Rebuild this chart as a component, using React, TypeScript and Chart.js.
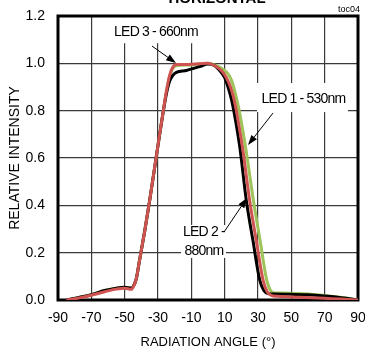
import React, { useEffect, useRef } from "react";
import { Chart, registerables } from "chart.js";

Chart.register(...registerables);

// ---- Data ----
const xTickValues = [-90, -70, -50, -30, -10, 10, 30, 50, 70, 90];
const yTickValues = [0, 0.2, 0.4, 0.6, 0.8, 1.0, 1.2];

// LED 1 - 530nm (green)
const led1Angles = [-85, -78, -70, -62, -55, -50, -46, -44.5, -43, -41.5, -40, -38, -35, -32, -29, -27, -25, -23, -21, -19, -12, -5, 0, 5, 9, 12, 14, 16.5, 19, 22.8, 27.2, 31.2, 35.2, 37.5, 40, 45, 55, 65, 75, 85, 90];
const led1Values = [0, 0.01, 0.022, 0.04, 0.05, 0.053, 0.05, 0.062, 0.09, 0.15, 0.21, 0.29, 0.42, 0.56, 0.7, 0.79, 0.88, 0.945, 0.98, 0.99, 0.993, 0.997, 1.0, 0.99, 0.975, 0.955, 0.93, 0.87, 0.79, 0.634, 0.4225, 0.2535, 0.085, 0.04, 0.03, 0.03, 0.027, 0.022, 0.015, 0.006, 0];

// LED 2 - 880nm (black)
const led2Angles = [-85, -78, -70, -62, -55, -50, -46, -44.5, -43, -41.5, -40, -38, -35, -32, -29, -27, -25, -23, -21, -19, -13, -5, 0, 4, 7, 10, 12, 14, 16, 19, 23, 27, 31, 33.5, 36, 40, 50, 60, 70, 80, 90];
const led2Values = [0, 0.01, 0.022, 0.04, 0.05, 0.054, 0.05, 0.062, 0.09, 0.15, 0.21, 0.29, 0.42, 0.56, 0.7, 0.79, 0.87, 0.925, 0.95, 0.962, 0.97, 0.986, 0.997, 0.99, 0.97, 0.94, 0.9, 0.85, 0.78, 0.65, 0.42, 0.25, 0.085, 0.04, 0.027, 0.025, 0.024, 0.022, 0.017, 0.01, 0];

// LED 3 - 660nm (red)
const led3Angles = [-85, -78, -70, -62, -55, -50, -46, -44.5, -43, -41.5, -40, -38, -35, -32, -29, -27, -25, -23, -21, -19, -12, -5, 0, 4, 8, 11, 14, 16.5, 18.5, 21, 25, 29, 33, 35.5, 38, 42, 55, 70, 80, 90];
const led3Values = [0, 0.008, 0.02, 0.035, 0.046, 0.05, 0.045, 0.06, 0.09, 0.15, 0.21, 0.29, 0.42, 0.56, 0.7, 0.79, 0.88, 0.95, 0.985, 0.995, 0.995, 0.998, 1.0, 0.99, 0.97, 0.94, 0.89, 0.82, 0.74, 0.63, 0.42, 0.25, 0.085, 0.035, 0.02, 0.016, 0.012, 0.007, 0.004, 0];

const seriesNames = ["LED 1 - 530nm", "LED 2 - 880nm", "LED 3 - 660nm"];

const FONT = "'Liberation Sans', Arial, Helvetica, sans-serif";

function toPoints(xs: number[], ys: number[]) {
  return xs.map((x, i) => ({ x, y: ys[i] }));
}

export default function App() {
  const ref = useRef<HTMLCanvasElement>(null);

  useEffect(() => {
    const canvas = ref.current!;

    const drawArrow = (ctx: CanvasRenderingContext2D, x1: number, y1: number, x2: number, y2: number) => {
      const ang = Math.atan2(y2 - y1, x2 - x1);
      const hl = 10, hw = 3.5;
      const bx = x2 - hl * Math.cos(ang), by = y2 - hl * Math.sin(ang);
      ctx.save();
      ctx.strokeStyle = "#000";
      ctx.fillStyle = "#000";
      ctx.lineWidth = 1;
      ctx.beginPath();
      ctx.moveTo(x1, y1);
      ctx.lineTo(bx, by);
      ctx.stroke();
      ctx.beginPath();
      ctx.moveTo(x2, y2);
      ctx.lineTo(bx + hw * Math.sin(ang), by - hw * Math.cos(ang));
      ctx.lineTo(bx - hw * Math.sin(ang), by + hw * Math.cos(ang));
      ctx.closePath();
      ctx.fill();
      ctx.restore();
    };

    const overlay = {
      id: "overlay",
      beforeDatasetsDraw(chart: any) {
        const { ctx, scales } = chart;
        const sx = scales.x, sy = scales.y;
        // white label boxes (covering grid)
        ctx.save();
        ctx.fillStyle = "#fff";
        const box = (x0: number, y0: number, x1: number, y1: number) => {
          const a = sx.getPixelForValue(x0), b = sx.getPixelForValue(x1);
          const c = sy.getPixelForValue(y0), d = sy.getPixelForValue(y1);
          ctx.fillRect(Math.min(a, b), Math.min(c, d), Math.abs(b - a), Math.abs(d - c));
        };
        box(-64.8, 1.195, -4.2, 1.085);   // LED 3 box
        box(29.4, 0.917, 84, 0.794);      // LED 1 box
        box(-16.2, 0.317, 10.8, 0.178);   // LED 2 box
        ctx.restore();
        // frame
        const a = chart.chartArea;
        ctx.save();
        ctx.strokeStyle = "#000";
        ctx.lineWidth = 3;
        ctx.strokeRect(a.left, a.top, a.right - a.left, a.bottom - a.top);
        ctx.restore();
      },
      afterDraw(chart: any) {
        const { ctx, scales } = chart;
        const sx = scales.x, sy = scales.y;
        const px = (v: number) => sx.getPixelForValue(v);
        const py = (v: number) => sy.getPixelForValue(v);
        ctx.save();
        ctx.fillStyle = "#000";
        ctx.font = `14px ${FONT}`;
        (ctx as any).letterSpacing = "-0.8px";
        ctx.textAlign = "center";
        ctx.textBaseline = "middle";
        ctx.fillText("LED 3 - 660nm", px(-31.2), py(1.132));
        ctx.fillText("LED 1 - 530nm", px(57.3), py(0.849));
        ctx.fillText("LED 2 -", px(-2.4), py(0.287));
        ctx.fillText("880nm", px(-2.4), py(0.207));
        (ctx as any).letterSpacing = "0px";
        // title (clipped at top)
        ctx.font = `bold 15px ${FONT}`;
        ctx.textBaseline = "alphabetic";
        ctx.fillText("HORIZONTAL", 217, 3);
        // toc04
        ctx.font = `9px ${FONT}`;
        ctx.textAlign = "right";
        ctx.textBaseline = "middle";
        ctx.fillText("toc04", 360, 10);
        ctx.restore();
        drawArrow(ctx, px(-33.6), py(1.073), px(-19.2), py(1.001));
        drawArrow(ctx, px(39), py(0.79), px(24), py(0.655));
        drawArrow(ctx, px(9.6), py(0.287), px(23.4), py(0.431));
      },
    };

    const chart = new Chart(canvas, {
      type: "line",
      data: {
        datasets: [
          {
            label: seriesNames[2],
            data: toPoints(led3Angles, led3Values),
            borderColor: "#cf5350",
            borderWidth: 3,
            pointRadius: 0,
            cubicInterpolationMode: "monotone",
            order: 1,
          },
          {
            label: seriesNames[1],
            data: toPoints(led2Angles, led2Values),
            borderColor: "#000000",
            borderWidth: 3,
            pointRadius: 0,
            cubicInterpolationMode: "monotone",
            order: 2,
          },
          {
            label: seriesNames[0],
            data: toPoints(led1Angles, led1Values),
            borderColor: "#9dc35a",
            borderWidth: 3,
            pointRadius: 0,
            cubicInterpolationMode: "monotone",
            order: 3,
          },
        ],
      },
      options: {
        responsive: false,
        animation: false,
        maintainAspectRatio: false,
        layout: { padding: { left: 0, right: 7, top: 16, bottom: 0 } },
        plugins: { legend: { display: false }, tooltip: { enabled: false }, title: { display: false } },
        scales: {
          x: {
            type: "linear",
            min: -90,
            max: 90,
            afterBuildTicks: (scale: any) => {
              scale.ticks = xTickValues.map((v) => ({ value: v }));
            },
            afterFit: (scale: any) => {
              scale.height = 52;
              scale.paddingLeft = 0;
              scale.paddingRight = 0;
            },
            ticks: {
              autoSkip: false,
              maxRotation: 0,
              padding: 10,
              color: "#000",
              font: { family: FONT, size: 14 },
              callback: (v: any) => String(v),
            },
            grid: { color: "#3a3a3a", lineWidth: 1.2, drawTicks: false },
            border: { display: false },
            title: {
              display: true,
              text: "RADIATION ANGLE (°)",
              color: "#000",
              font: { family: FONT, size: 13 },
              padding: { top: 0, bottom: 2 },
            },
          },
          y: {
            type: "linear",
            min: 0,
            max: 1.2,
            afterBuildTicks: (scale: any) => {
              scale.ticks = yTickValues.map((v) => ({ value: v }));
            },
            afterFit: (scale: any) => {
              scale.width = 58;
              scale.paddingTop = 0;
              scale.paddingBottom = 0;
            },
            ticks: {
              padding: 13,
              color: "#000",
              font: { family: FONT, size: 14 },
              callback: (v: any) => Number(v).toFixed(1),
            },
            grid: { color: "#3a3a3a", lineWidth: 1.2, drawTicks: false },
            border: { display: false },
            title: {
              display: true,
              text: "RELATIVE INTENSITY",
              color: "#000",
              font: { family: FONT, size: 14 },
              padding: { top: 7, bottom: 0 },
            },
          },
        },
      },
      plugins: [overlay],
    } as any);

    return () => chart.destroy();
  }, []);

  return (
    <div style={{ position: "absolute", left: 0, top: 0, width: 365, height: 352, background: "#fff" }}>
      <canvas ref={ref} width={365} height={352} style={{ width: 365, height: 352, display: "block" }} />
    </div>
  );
}
